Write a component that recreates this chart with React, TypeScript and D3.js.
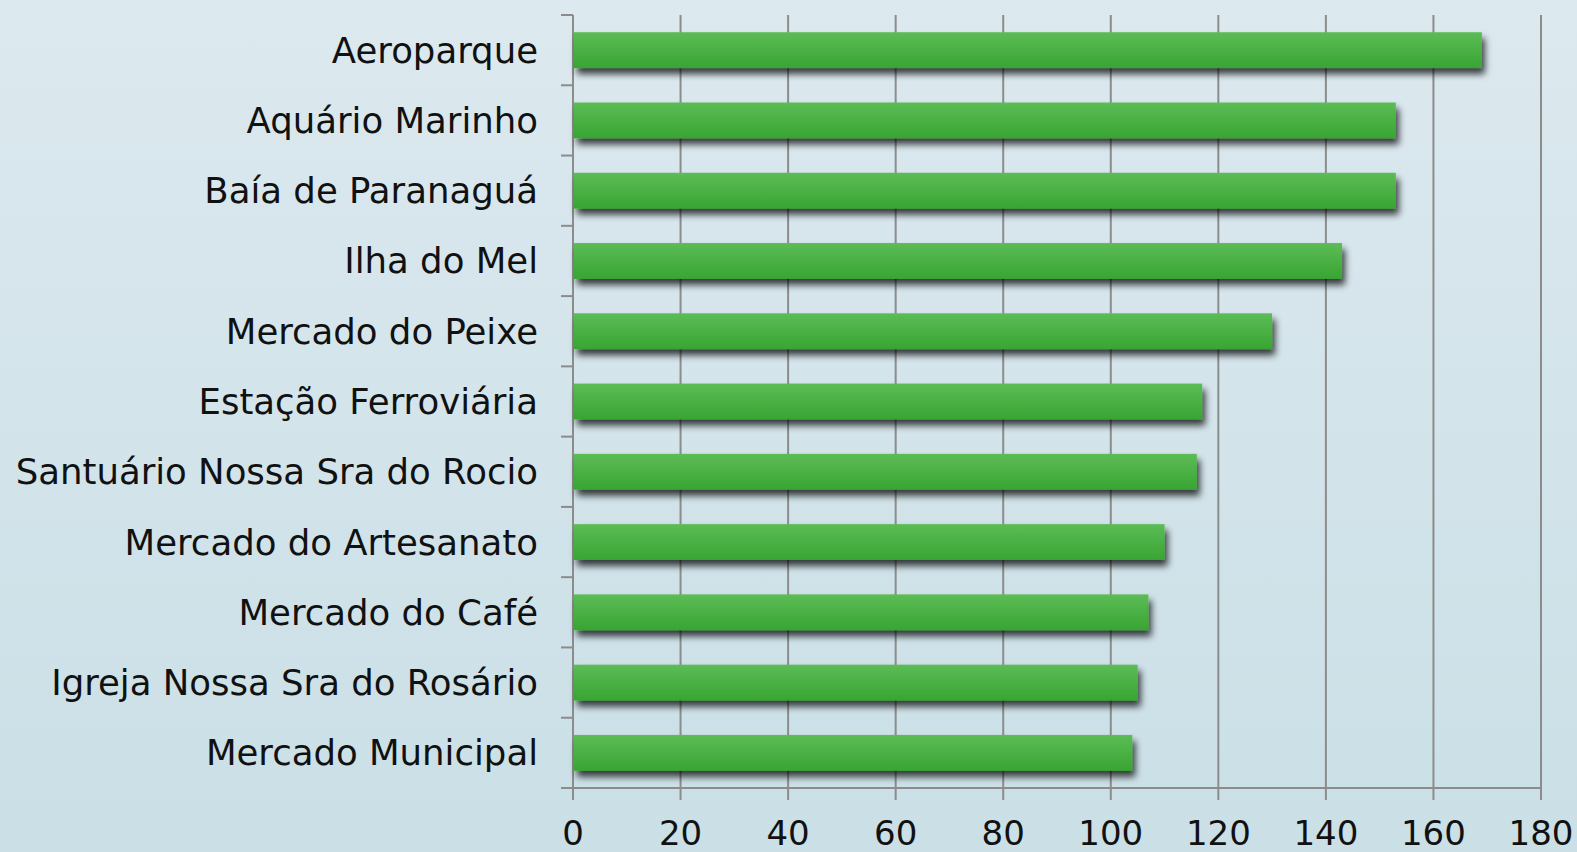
import React from "react";
import * as d3 from "d3";

const categories = [
  "Aeroparque",
  "Aquário Marinho",
  "Baía de Paranaguá",
  "Ilha do Mel",
  "Mercado do Peixe",
  "Estação Ferroviária",
  "Santuário Nossa Sra do Rocio",
  "Mercado do Artesanato",
  "Mercado do Café",
  "Igreja Nossa Sra do Rosário",
  "Mercado Municipal",
];
const values = [169, 153, 153, 143, 130, 117, 116, 110, 107, 105, 104];
const xTicks = [0, 20, 40, 60, 80, 100, 120, 140, 160, 180];

const W = 1577;
const H = 852;
const left = 573;
const right = 1541;
const top = 15;
const bottom = 788;
const FONT = "'Century Gothic', 'URW Gothic', 'DejaVu Sans', sans-serif";

export default function App() {
  const x = d3.scaleLinear().domain([0, 180]).range([left, right]);
  const y = d3.scaleBand<string>().domain(categories).range([top, bottom]).paddingInner(0.49).paddingOuter(0.245);
  const band = d3.scaleBand<string>().domain(categories).range([top, bottom]);
  const grid = "#8c8c8c";
  return (
    <svg width={W} height={H} style={{ position: "absolute", left: 0, top: 0 }} fontFamily={FONT}>
      <defs>
        <linearGradient id="bg" x1="0" y1="0" x2="0" y2="1">
          <stop offset="0" stopColor="#dce9ef" />
          <stop offset="1" stopColor="#cadfe6" />
        </linearGradient>
        <linearGradient id="bar" x1="0" y1="0" x2="0" y2="1">
          <stop offset="0" stopColor="#5cbc56" />
          <stop offset="1" stopColor="#38a533" />
        </linearGradient>
        <filter id="shadow" x="-5%" y="-30%" width="110%" height="180%">
          <feGaussianBlur in="SourceAlpha" stdDeviation="3.5" />
          <feOffset dx="3" dy="6" result="b" />
          <feComponentTransfer>
            <feFuncA type="linear" slope="0.75" />
          </feComponentTransfer>
          <feMerge>
            <feMergeNode />
            <feMergeNode in="SourceGraphic" />
          </feMerge>
        </filter>
      </defs>
      <rect x={0} y={0} width={W} height={H} fill="url(#bg)" />
      {xTicks.map((t) => (
        <line key={t} x1={x(t)} x2={x(t)} y1={top} y2={bottom + 12} stroke={grid} strokeWidth={2} />
      ))}
      <line x1={left} x2={left} y1={top} y2={bottom} stroke={grid} strokeWidth={2} />
      <line x1={left - 12} x2={right} y1={bottom} y2={bottom} stroke={grid} strokeWidth={2} />
      {categories.map((c) => (
        <line key={c} x1={left - 12} x2={left} y1={band(c)!} y2={band(c)!} stroke={grid} strokeWidth={2} />
      ))}
      {categories.map((c, i) => (
        <rect
          key={c}
          x={x(0) + 1}
          y={y(c)!}
          width={x(values[i]) - x(0) - 1}
          height={y.bandwidth()}
          fill="url(#bar)"
          filter="url(#shadow)"
        />
      ))}
      {categories.map((c) => (
        <text
          key={c}
          x={538}
          y={band(c)! + band.bandwidth() / 2}
          textAnchor="end"
          dominantBaseline="central"
          fontSize={35.5}
          fill="#111"
        >
          {c}
        </text>
      ))}
      {xTicks.map((t) => (
        <text key={t} x={x(t)} y={833} textAnchor="middle" dominantBaseline="central" fontSize={34} fill="#111">
          {t}
        </text>
      ))}
    </svg>
  );
}
